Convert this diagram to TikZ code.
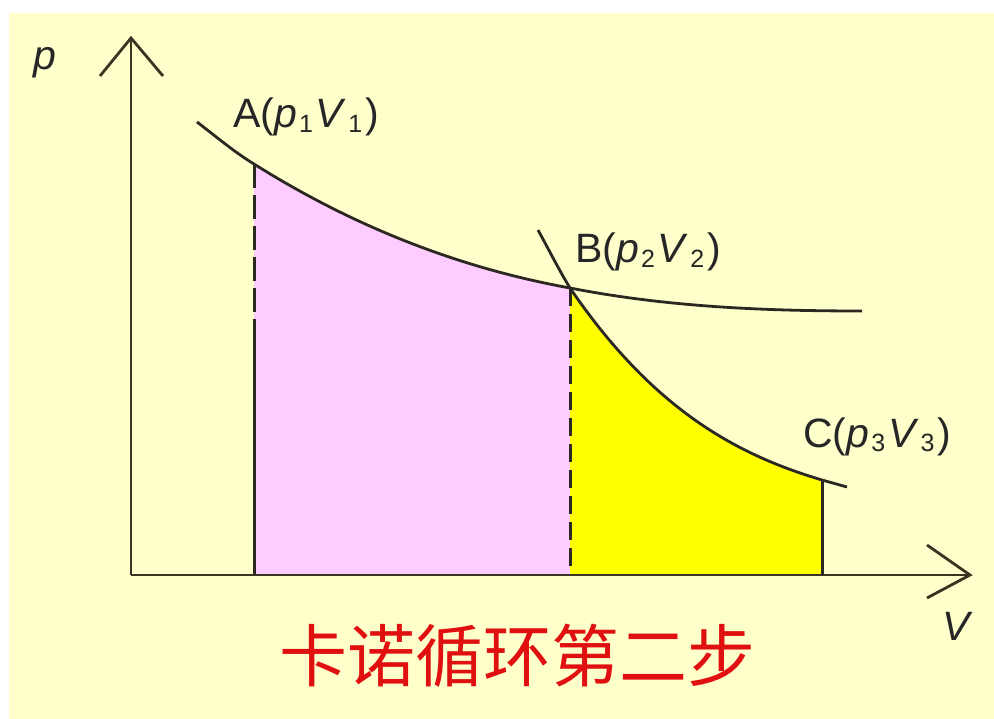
\documentclass[tikz,border=0pt]{standalone}
\usepackage{fontspec}
\setmainfont{Liberation Sans}
\newfontfamily\cjkfont{Noto Sans CJK SC}
\definecolor{cream}{HTML}{FFFFCC}
\definecolor{pinkfill}{HTML}{FFCCFF}
\definecolor{yelfill}{HTML}{FFFF00}
\definecolor{inkline}{HTML}{2A2820}
\definecolor{axisline}{HTML}{3A3522}
\definecolor{titlered}{HTML}{E01010}
\newcommand{\lbsub}[1]{\kern2pt\raisebox{-0.12em}{\fontsize{25}{27}\selectfont #1}\kern3pt}
\begin{document}
\begin{tikzpicture}[x=1pt,y=-1pt,
  curve/.style={draw=inkline,line width=2.8pt},
  axisstyle/.style={draw=axisline,line width=2.8pt},
  vline/.style={draw=inkline,line width=3pt},
  lbl/.style={inner sep=0pt,anchor=base west,font=\fontsize{41}{44}\selectfont,text=black!85}]
\useasboundingbox (0,0) rectangle (994,719);
\fill[white] (0,0) rectangle (994,719);
\fill[cream] (9,13) rectangle (994,719);
% key points
\coordinate (O) at (131,575);
\coordinate (S1) at (197,122);
\coordinate (A) at (254,164);
\coordinate (B) at (570,288);
\coordinate (E1) at (862,311);
\coordinate (S2) at (538,230);
\coordinate (C) at (822,480);
\coordinate (E2) at (847,487);
\coordinate (Ab) at (254,575);
\coordinate (Am) at (254,332);
\coordinate (Bb) at (570,575);
\coordinate (Cb) at (822,575);
% fills
\fill[pinkfill] (Ab) -- (A) .. controls (359,230) and (465,269) .. (B) -- (Bb) -- cycle;
\fill[yelfill] (Bb) -- (B) .. controls (654,411) and (738,455) .. (C) -- (Cb) -- cycle;
% vertical lines
\draw[vline,dash pattern=on 24pt off 7pt] (A) -- (Am);
\draw[vline] (Am) -- (Ab);
\draw[vline,dash pattern=on 18pt off 8pt] (B) -- (Bb);
\draw[vline] (C) -- (Cb);
% axes
\coordinate (ytip) at (131,38);
\coordinate (yl) at (100,76);
\coordinate (yr) at (163,76);
\coordinate (xtip) at (970,575);
\coordinate (xu) at (927,545);
\coordinate (xd) at (927,598);
\draw[axisstyle] (O) -- (ytip);
\draw[axisstyle,line join=miter] (yl) -- (ytip) -- (yr);
\draw[axisstyle] (O) -- (xtip);
\draw[axisstyle,line join=miter] (xu) -- (xtip) -- (xd);
% curves
\draw[curve] (S1) .. controls (216,136.5) and (235,152.6) .. (A)
  .. controls (359,230) and (465,269) .. (B)
  .. controls (667,307) and (765,311) .. (E1);
\draw[curve] (S2) .. controls (549,250) and (559,270) .. (B)
  .. controls (654,411) and (738,455) .. (C) -- (E2);
% labels
\node[lbl] (plabel) at (33,70) {\textit{p}};
\node[lbl] (vlabel) at (942,640) {\textit{V}};
\node[lbl] (alabel) at (233,128) {A(\textit{p}\lbsub{1}\textit{V}\lbsub{1})};
\node[lbl] (blabel) at (575,263) {B(\textit{p}\lbsub{2}\textit{V}\lbsub{2})};
\node[lbl] (clabel) at (803,447) {C(\textit{p}\lbsub{3}\textit{V}\lbsub{3})};
\node[inner sep=0pt,text=titlered,font=\cjkfont\fontsize{68}{72}\selectfont] (title) at (517,656) {卡诺循环第二步};
\end{tikzpicture}
\end{document}
